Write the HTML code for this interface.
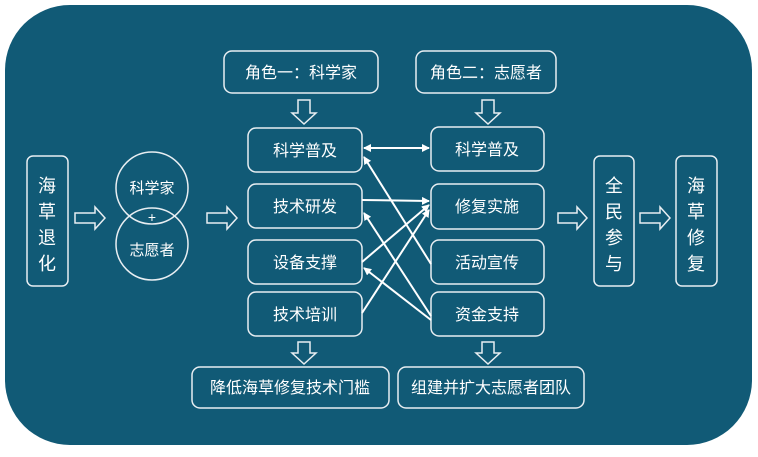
<!DOCTYPE html>
<html><head><meta charset="utf-8"><style>
body{margin:0;width:758px;height:452px;background:#fff;overflow:hidden;font-family:"Liberation Sans","Noto Sans CJK SC",sans-serif}
</style></head><body>
<svg width="758" height="452" xmlns="http://www.w3.org/2000/svg" font-family="Liberation Sans, Noto Sans CJK SC, sans-serif">
<defs>
<marker id="a" markerWidth="8" markerHeight="8" refX="7" refY="4" orient="auto" markerUnits="userSpaceOnUse"><path d="M0,0 L8,4 L0,8 Z" fill="#fff"/></marker>
<marker id="b" markerWidth="8" markerHeight="8" refX="1" refY="4" orient="auto" markerUnits="userSpaceOnUse"><path d="M8,0 L0,4 L8,8 Z" fill="#fff"/></marker>
</defs>
<rect x="5" y="5" width="747" height="440" rx="65" fill="#115a76"/>
<g fill="none" stroke="#e8eef2" stroke-width="1.5">
<rect x="224" y="51" width="154" height="42" rx="8"/>
<rect x="416" y="51" width="140" height="42" rx="8"/>
<rect x="248" y="128" width="114" height="44" rx="8"/>
<rect x="248" y="184" width="114" height="44" rx="8"/>
<rect x="248" y="240" width="114" height="44" rx="8"/>
<rect x="248" y="292" width="114" height="44" rx="8"/>
<rect x="431" y="127" width="113" height="44" rx="8"/>
<rect x="431" y="184" width="113" height="45" rx="8"/>
<rect x="431" y="240" width="113" height="44" rx="8"/>
<rect x="431" y="292" width="113" height="44" rx="8"/>
<rect x="27" y="156" width="41" height="130" rx="6"/>
<rect x="594" y="156" width="40" height="130" rx="6"/>
<rect x="676" y="156" width="41" height="130" rx="6"/>
<rect x="192" y="367" width="197" height="41" rx="8"/>
<rect x="398" y="367" width="186" height="41" rx="8"/>
<circle cx="152" cy="188" r="36"/>
<circle cx="152" cy="244" r="36"/>
<!-- hollow arrows right -->
<path d="M75,213 H95 V207 L105,218 L95,229 V223 H75 Z"/>
<path d="M207,213 H227 V207 L237,218 L227,229 V223 H207 Z"/>
<path d="M558,213 H577 V207 L587,218 L577,229 V223 H558 Z"/>
<path d="M640,213 H660 V207 L670,218 L660,229 V223 H640 Z"/>
<!-- hollow arrows down -->
<path d="M298,100 V113 H292 L304,124 L316,113 H310 V100 Z"/>
<path d="M482,100 V113 H476 L488,124 L500,113 H494 V100 Z"/>
<path d="M298,342 V353 H292 L304,364 L316,353 H310 V342 Z"/>
<path d="M482,342 V353 H476 L488,364 L500,353 H494 V342 Z"/>
</g>
<g stroke="#fff" stroke-width="2" fill="none">
<line x1="364" y1="148" x2="429" y2="148" marker-start="url(#b)" marker-end="url(#a)"/>
<line x1="362" y1="200" x2="429" y2="201" marker-end="url(#a)"/>
<line x1="431" y1="264" x2="364" y2="157" marker-end="url(#a)"/>
<line x1="362" y1="262" x2="429" y2="205" marker-end="url(#a)"/>
<line x1="362" y1="313" x2="429" y2="210" marker-end="url(#a)"/>
<line x1="431" y1="316" x2="364" y2="213" marker-end="url(#a)"/>
<line x1="431" y1="320" x2="364" y2="268" marker-end="url(#a)"/>
</g>
<g fill="#fff" font-size="16" text-anchor="middle">
<text x="301" y="78">角色一：科学家</text>
<text x="486" y="78">角色二：志愿者</text>
<text x="305" y="156">科学普及</text>
<text x="305" y="212">技术研发</text>
<text x="305" y="268">设备支撑</text>
<text x="305" y="320">技术培训</text>
<text x="487" y="155">科学普及</text>
<text x="487" y="212">修复实施</text>
<text x="487" y="268">活动宣传</text>
<text x="487" y="320">资金支持</text>
<text x="290" y="393">降低海草修复技术门槛</text>
<text x="491" y="393">组建并扩大志愿者团队</text>
<text x="152" y="193" font-size="15">科学家</text>
<text x="152" y="255" font-size="15">志愿者</text>
<text x="152" y="222" font-size="14">+</text>
<text x="47" y="192" font-size="18">海</text>
<text x="47" y="218" font-size="18">草</text>
<text x="47" y="244" font-size="18">退</text>
<text x="47" y="270" font-size="18">化</text>
<text x="614" y="192" font-size="18">全</text>
<text x="614" y="218" font-size="18">民</text>
<text x="614" y="244" font-size="18">参</text>
<text x="614" y="270" font-size="18">与</text>
<text x="696" y="192" font-size="18">海</text>
<text x="696" y="218" font-size="18">草</text>
<text x="696" y="244" font-size="18">修</text>
<text x="696" y="270" font-size="18">复</text>
</g>
</svg>
</body></html>
